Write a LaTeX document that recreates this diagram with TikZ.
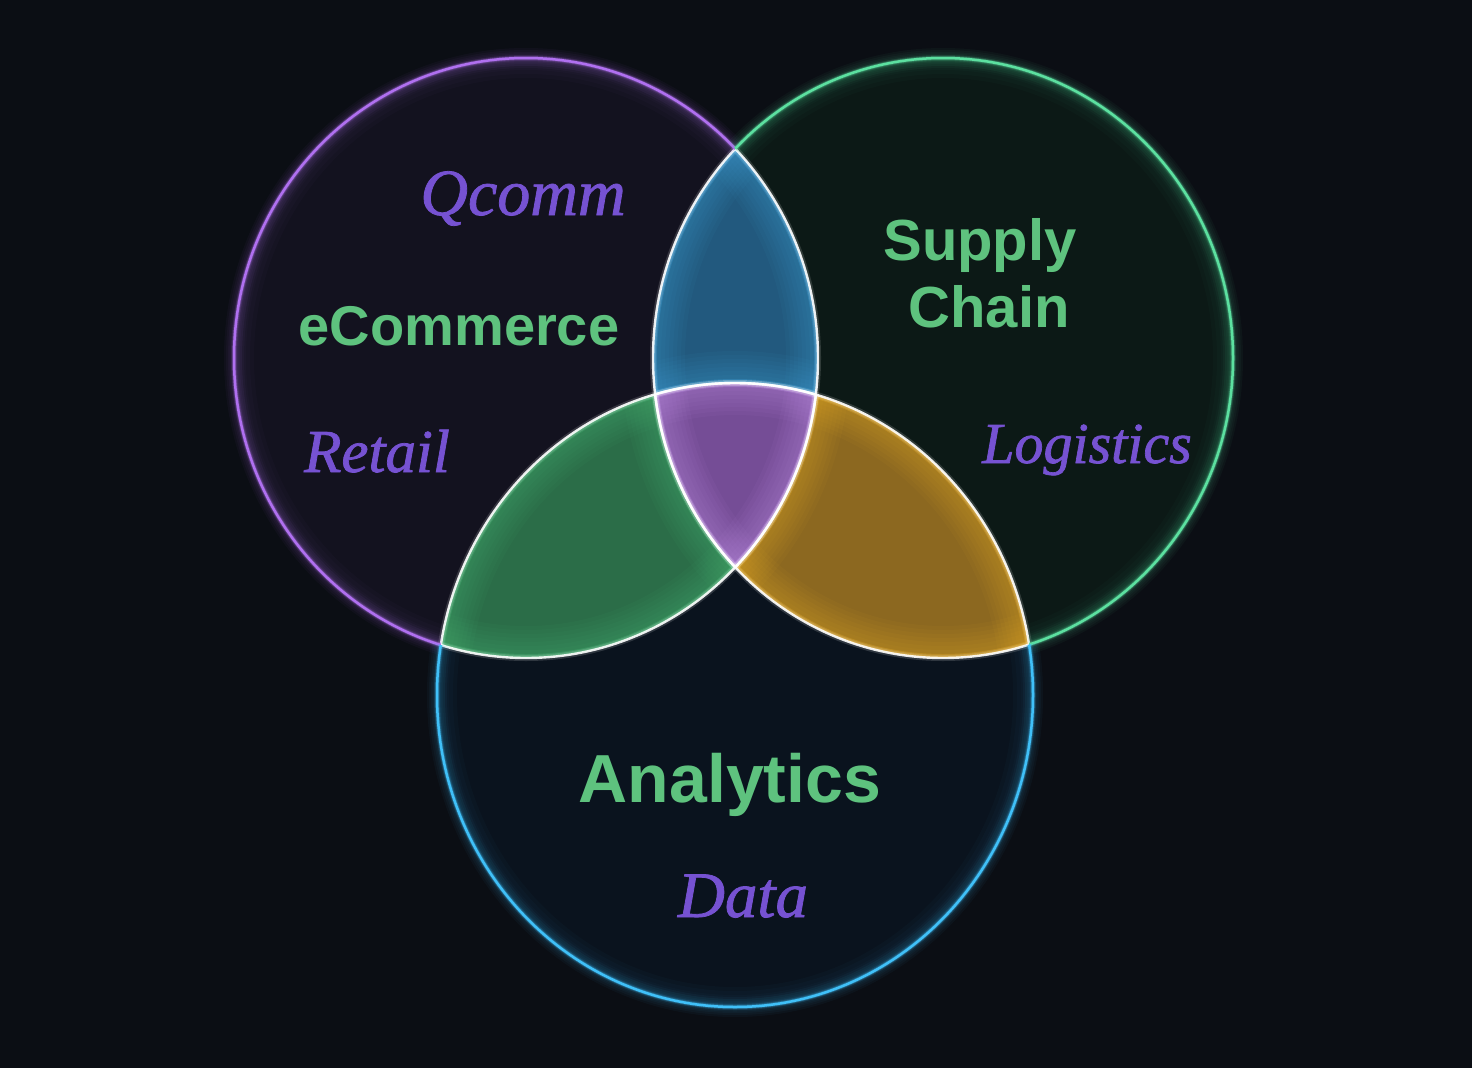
\documentclass[tikz,border=0pt]{standalone}
\usepackage{fontspec}
\setmainfont{Liberation Serif}[ItalicFeatures={FakeBold=1.2}]
\setsansfont{Liberation Sans}
\definecolor{bg}{HTML}{0B0E14}
\definecolor{pfill}{HTML}{13121F}
\definecolor{gfill}{HTML}{0C1916}
\definecolor{bfill}{HTML}{0A131E}
\definecolor{pline}{HTML}{B070F0}
\definecolor{gline}{HTML}{5CE0A0}
\definecolor{bline}{HTML}{40C0F8}
\definecolor{lensfill}{HTML}{22597E}
\definecolor{lensedge}{HTML}{45A8E0}
\definecolor{pbfill}{HTML}{2B6D48}
\definecolor{pbedge}{HTML}{4CBC7A}
\definecolor{gbfill}{HTML}{8C6820}
\definecolor{gbedge}{HTML}{EEB432}
\definecolor{tfill}{HTML}{754D96}
\definecolor{tedge}{HTML}{C898EE}
\definecolor{tgreen}{HTML}{5EC27E}
\definecolor{tpurple}{HTML}{7652D2}
\newcommand\regionglow[1]{%
  \foreach \w in {64,56,...,8}{%
    \draw[#1, line width=\w, opacity=0.05] \PE;
    \draw[#1, line width=\w, opacity=0.05] \GE;
    \draw[#1, line width=\w, opacity=0.05] \BE;
  }
  \foreach \w/\o in {8/0.25, 4/0.35}{%
    \draw[#1, line width=\w, opacity=\o] \PE;
    \draw[#1, line width=\w, opacity=\o] \GE;
    \draw[#1, line width=\w, opacity=\o] \BE;
  }}
\newcommand\innerhaze[2]{%
  \begin{scope}\clip #2;
  \foreach \w in {40,32,...,8}{\draw[#1, line width=\w, opacity=0.025] #2;}
  \end{scope}}
\newcommand\outerline[2]{%
  \foreach \w in {20,16,12,9}{\draw[#1, line width=\w, opacity=0.04] #2;}
  \draw[#1, line width=6, opacity=0.15] #2;
  \draw[#1, line width=4, opacity=0.3] #2;
  \draw[#1, line width=2.5] #2;}
\begin{document}
\begin{tikzpicture}[x=1pt,y=-1pt,
  lbl/.style={inner sep=0pt, anchor=base},
  head/.style={lbl, text=tgreen, font=\sffamily\bfseries\fontsize{#1}{#1}\selectfont},
  sub/.style={lbl, text=tpurple, font=\itshape\fontsize{#1}{#1}\selectfont},
  core/.style={white, line width=2.4, opacity=0.9},
  corehalo/.style={white, line width=6, opacity=0.15}]
\def\RECT{(0,0) rectangle (1472,1068)}
\def\PE{(526,358) ellipse [x radius=292, y radius=300]}
\def\GE{(943,358) ellipse [x radius=290, y radius=300]}
\def\BE{(735,695) ellipse [x radius=298, y radius=312]}

\path[use as bounding box, fill=bg] \RECT;

% single circle fills
\fill[pfill] \PE;
\fill[gfill] \GE;
\fill[bfill] \BE;
\innerhaze{pline}{\PE}
\innerhaze{gline}{\GE}
\innerhaze{bline}{\BE}

% pairwise regions
\begin{scope}\clip \PE; \clip \GE;
  \fill[lensfill] \RECT;
  \regionglow{lensedge}
\end{scope}
\begin{scope}\clip \PE; \clip \BE;
  \fill[pbfill] \RECT;
  \regionglow{pbedge}
\end{scope}
\begin{scope}\clip \GE; \clip \BE;
  \fill[gbfill] \RECT;
  \regionglow{gbedge}
\end{scope}
% triple region
\begin{scope}\clip \PE; \clip \GE; \clip \BE;
  \fill[tfill] \RECT;
  \regionglow{tedge}
\end{scope}

% inner boundaries (white)
\begin{scope}\clip \GE; \draw[corehalo] \PE; \draw[core] \PE; \end{scope}
\begin{scope}\clip \BE; \draw[corehalo] \PE; \draw[core] \PE; \end{scope}
\begin{scope}\clip \PE; \draw[corehalo] \GE; \draw[core] \GE; \end{scope}
\begin{scope}\clip \BE; \draw[corehalo] \GE; \draw[core] \GE; \end{scope}
\begin{scope}\clip \PE; \draw[corehalo] \BE; \draw[core] \BE; \end{scope}
\begin{scope}\clip \GE; \draw[corehalo] \BE; \draw[core] \BE; \end{scope}

% outer boundaries (coloured glow)
\begin{scope}[even odd rule]
  \clip \RECT \GE;
  \clip \RECT \BE;
  \outerline{pline}{\PE}
\end{scope}
\begin{scope}[even odd rule]
  \clip \RECT \PE;
  \clip \RECT \BE;
  \outerline{gline}{\GE}
\end{scope}
\begin{scope}[even odd rule]
  \clip \RECT \PE;
  \clip \RECT \GE;
  \outerline{bline}{\BE}
\end{scope}

% labels
\node[sub=66] (qcomm) at (523,215) {Qcomm};
\node[head=56] (ecom) at (459,345) {eCommerce};
\node[sub=61] (retail) at (377,472) {Retail};
\node[head=58] (supply) at (980,260) {Supply};
\node[head=58] (chain) at (989,327) {Chain};
\node[sub=58] (logistics) at (1087,463) {Logistics};
\node[head=68] (analytics) at (730,802) {Analytics};
\node[sub=65] (data) at (743,917) {Data};
\end{tikzpicture}
\end{document}
